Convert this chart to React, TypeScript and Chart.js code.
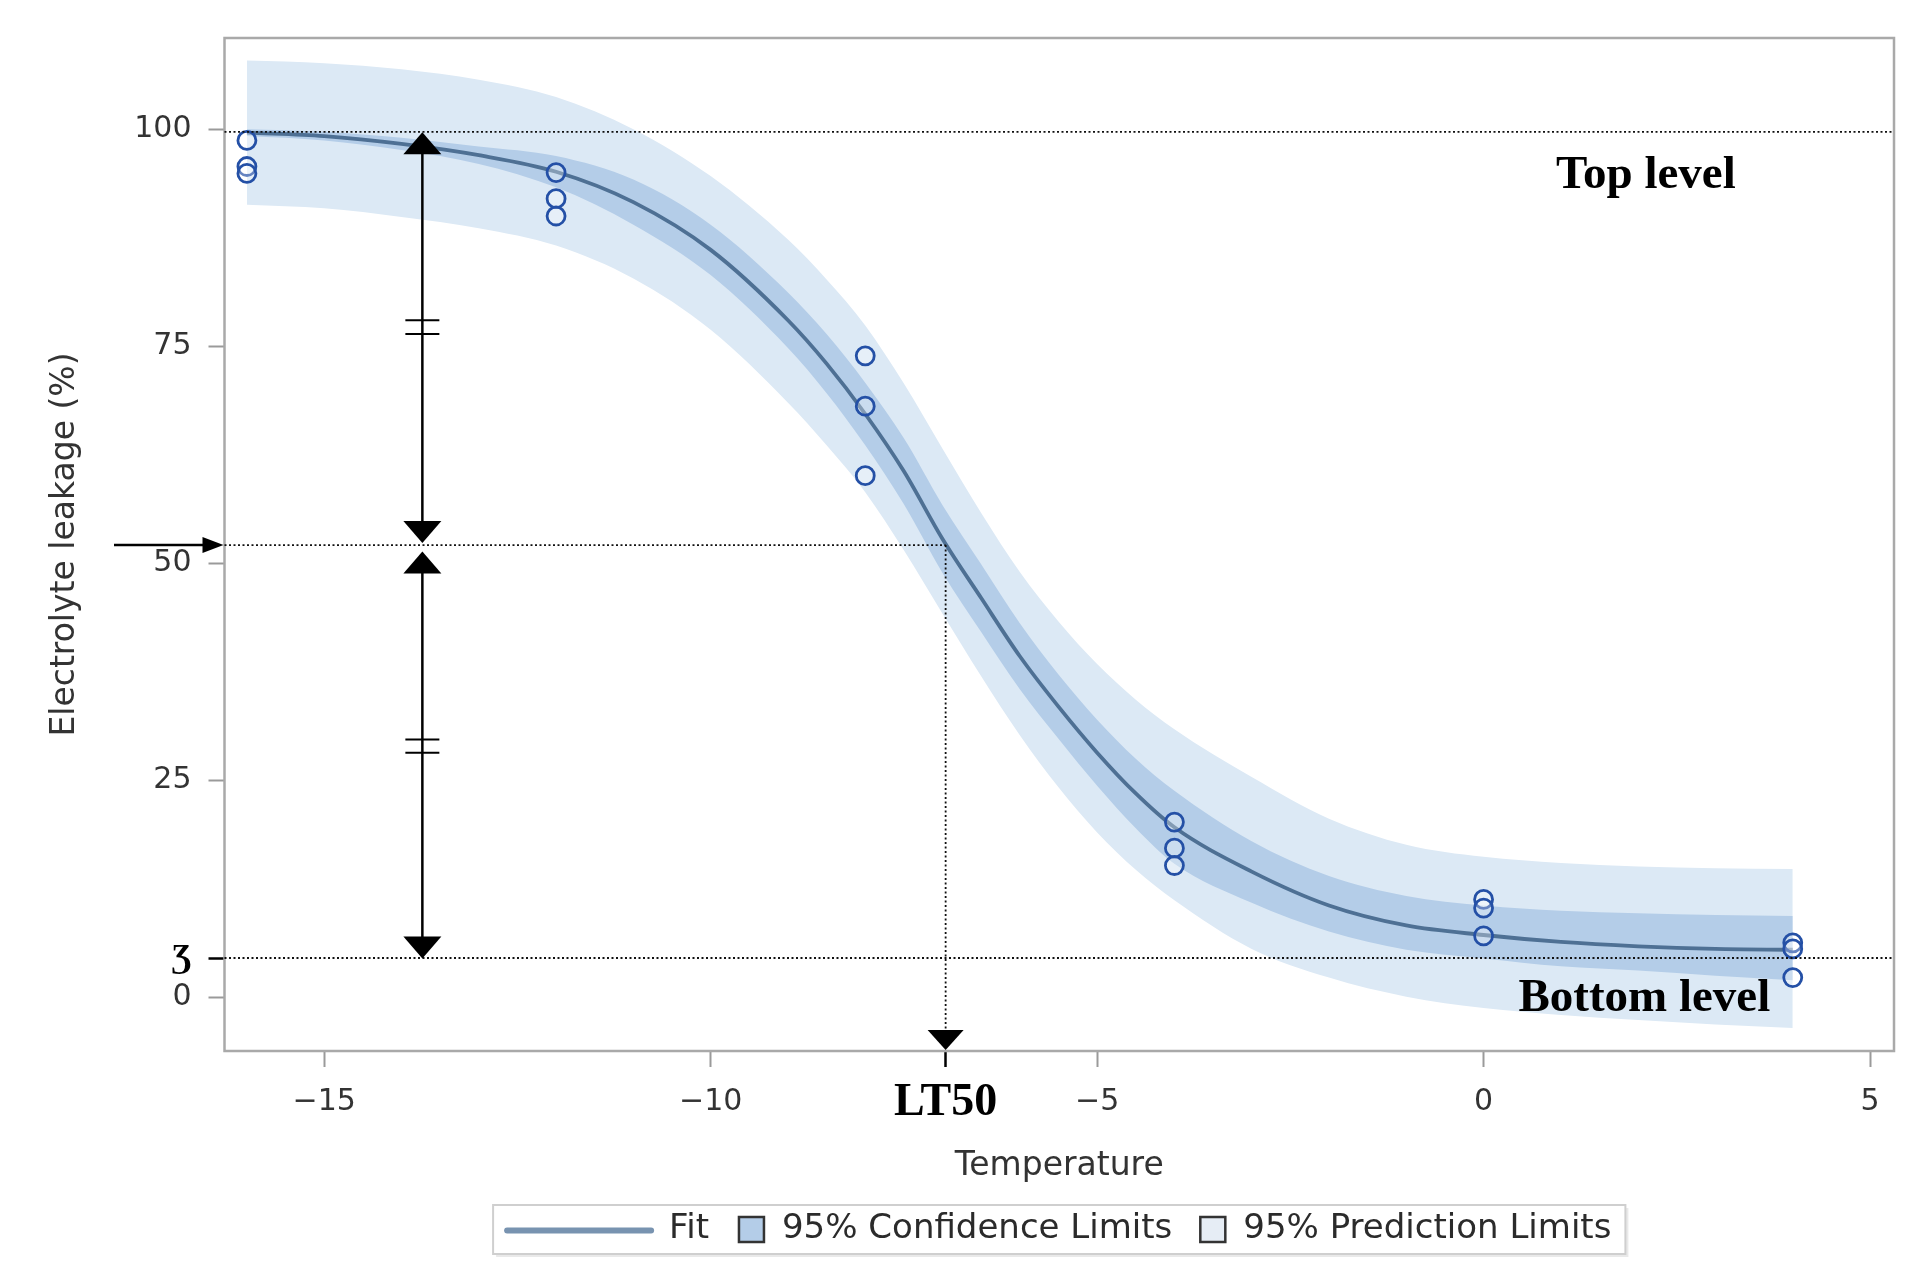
import React, { useEffect, useRef } from "react";
import { Chart, registerables } from "chart.js";

Chart.register(...registerables);

// ---------------- data ----------------
const temperatures = [-16, -15, -14, -13, -12, -11, -10, -9, -8.5, -8, -7.5, -7, -6.5, -6, -5.5, -5, -4.5, -4, -3, -2, -1, 0, 1, 2, 3, 4];
const fitValues = [99.6, 99.2, 98.3, 97.0, 95.1, 91.6, 86.1, 78.0, 73.0, 67.2, 60.6, 52.8, 46.0, 39.3, 33.5, 28.2, 23.5, 19.6, 14.5, 10.6, 8.3, 7.2, 6.4, 5.9, 5.6, 5.5];
const ciUpper = [100.0, 99.7, 99.0, 98.0, 96.9, 94.2, 89.0, 81.2, 76.4, 70.8, 64.4, 56.7, 49.9, 43.1, 37.2, 32.0, 27.5, 23.8, 18.0, 14.0, 11.7, 10.6, 10.0, 9.7, 9.5, 9.4];
const ciLower = [99.2, 98.7, 97.6, 96.0, 93.3, 89.0, 83.2, 74.8, 69.6, 63.6, 56.8, 48.9, 42.1, 35.5, 29.8, 24.4, 19.5, 15.4, 10.9, 7.6, 5.5, 4.5, 3.6, 3.1, 2.5, 2.0];
const piUpper = [107.9, 107.6, 106.9, 105.7, 103.7, 100.0, 94.6, 87.3, 82.7, 77.4, 70.7, 63.2, 55.8, 49.0, 43.3, 38.4, 34.3, 30.9, 25.4, 20.6, 17.6, 16.2, 15.5, 15.1, 14.9, 14.8];
const piLower = [91.3, 90.9, 89.9, 88.6, 86.6, 82.8, 76.9, 68.5, 63.6, 58.2, 51.5, 44.2, 37.0, 30.2, 24.2, 19.0, 14.7, 11.2, 5.6, 2.3, 0.1, -1.2, -2.0, -2.6, -3.1, -3.5];

const obsTemperatures = [-16, -16, -16, -12, -12, -12, -8, -8, -8, -4, -4, -4, 0, 0, 0, 4, 4, 4];
const obsLeakage = [98.7, 95.7, 94.9, 95.0, 92.0, 90.0, 73.9, 68.1, 60.1, 20.2, 17.2, 15.2, 11.3, 10.3, 7.1, 6.3, 5.6, 2.3];

const xTickValues = [-15, -10, -5, 0, 5];
const yTickValues = [0, 25, 50, 75, 100];

const LT50 = -6.96;
const TOP_LEVEL = 99.7;
const MID_LEVEL = 52.1;
const BOTTOM_LEVEL = 4.55;
const ARROW_X = -13.73;
const upperArrow = [99.65, 52.35];
const lowerArrow = [51.35, 4.5];
const breakMarks = [78.0, 76.4, 29.7, 28.2];

const legendLabels = ["Fit", "95% Confidence Limits", "95% Prediction Limits"];
const xTitle = "Temperature";
const yTitle = "Electrolyte leakage (%)";
const lt50Label = "LT50";
const bottomTickLabel = "Ʒ";
const topLevelLabel = "Top level";
const bottomLevelLabel = "Bottom level";

// ---------------- styles ----------------
const PI_COLOR = "#dce9f5";
const CI_COLOR = "#b4cde8";
const FIT_COLOR = "#4e7094";
const POINT_COLOR = "#2450a6";
const SANS = '"DejaVu Sans", "Liberation Sans", sans-serif';
const SERIF = '"Liberation Serif", "DejaVu Serif", "Times New Roman", serif';

const pts = (ys: number[]) => temperatures.map((t, i) => ({ x: t, y: ys[i] }));

function arrowHead(ctx: CanvasRenderingContext2D, tipX: number, tipY: number, dx: number, dy: number, len: number, half: number) {
  const bx = tipX - dx * len;
  const by = tipY - dy * len;
  const px = -dy;
  const py = dx;
  ctx.beginPath();
  ctx.moveTo(tipX, tipY);
  ctx.lineTo(bx + px * half, by + py * half);
  ctx.lineTo(bx - px * half, by - py * half);
  ctx.closePath();
  ctx.fill();
}

function seg(ctx: CanvasRenderingContext2D, x1: number, y1: number, x2: number, y2: number) {
  ctx.beginPath();
  ctx.moveTo(x1, y1);
  ctx.lineTo(x2, y2);
  ctx.stroke();
}

const annotationPlugin = {
  id: "lt50Annotations",
  afterDatasetsDraw(chart: any) {
    const { ctx, chartArea: a, scales } = chart;
    const x = scales.x;
    const y = scales.y;
    ctx.save();

    // frame
    ctx.strokeStyle = "#a9a9a9";
    ctx.lineWidth = 2.5;
    ctx.strokeRect(a.left, a.top, a.right - a.left, a.bottom - a.top);

    // dotted reference lines
    ctx.strokeStyle = "#111";
    ctx.lineWidth = 1.8;
    ctx.setLineDash([2, 2.5]);
    const yTop = y.getPixelForValue(TOP_LEVEL);
    const yMid = y.getPixelForValue(MID_LEVEL);
    const yBot = y.getPixelForValue(BOTTOM_LEVEL);
    const xL = x.getPixelForValue(LT50);
    seg(ctx, a.left, yTop, a.right, yTop);
    seg(ctx, a.left, yMid, xL, yMid);
    seg(ctx, a.left, yBot, a.right, yBot);
    seg(ctx, xL, yMid, xL, a.bottom - 18);
    ctx.setLineDash([]);

    ctx.fillStyle = "#000";
    ctx.strokeStyle = "#000";
    // LT50 arrow head at bottom
    arrowHead(ctx, xL, a.bottom - 1, 0, 1, 20, 18);

    // double arrows
    const ax = x.getPixelForValue(ARROW_X);
    const HL = 22;
    const HW = 19;
    ctx.lineWidth = 2.5;
    [upperArrow, lowerArrow].forEach(([from, to]) => {
      const y1 = y.getPixelForValue(from);
      const y2 = y.getPixelForValue(to);
      seg(ctx, ax, y1 + HL - 2, ax, y2 - HL + 2);
      arrowHead(ctx, ax, y1, 0, -1, HL, HW);
      arrowHead(ctx, ax, y2, 0, 1, HL, HW);
    });
    ctx.lineWidth = 2;
    breakMarks.forEach((v) => {
      const yy = y.getPixelForValue(v);
      seg(ctx, ax - 17, yy, ax + 17, yy);
    });

    // left arrow pointing at the 50% level
    ctx.lineWidth = 2.5;
    seg(ctx, 114, yMid, a.left - 20, yMid);
    arrowHead(ctx, a.left - 1, yMid, 1, 0, 21, 8);

    // level labels
    ctx.font = "bold 47px " + SERIF;
    ctx.textAlign = "center";
    ctx.textBaseline = "alphabetic";
    ctx.fillText(topLevelLabel, x.getPixelForValue(2.1), y.getPixelForValue(93.2));
    ctx.fillText(bottomLevelLabel, x.getPixelForValue(2.08), y.getPixelForValue(-1.6));

    ctx.restore();
  },
  afterDraw(chart: any) {
    const { ctx, chartArea: a } = chart;
    ctx.save();
    ctx.font = "34px " + SANS;
    const widths = legendLabels.map((l) => ctx.measureText(l).width);
    const pad = 14;
    const lineLen = 144;
    const sq = 25;
    const total = pad + lineLen + 18 + widths[0] + 30 + sq + 18 + widths[1] + 28 + sq + 18 + widths[2] + pad;
    const left = (a.left + a.right) / 2 - total / 2;
    const top = chart.height - 75;
    const h = 49;
    const cy = top + h / 2;
    // shadow + box
    ctx.fillStyle = "#e9e9e9";
    ctx.fillRect(left + 3, top + 3, total, h);
    ctx.fillStyle = "#fff";
    ctx.fillRect(left, top, total, h);
    ctx.strokeStyle = "#cfcfcf";
    ctx.lineWidth = 2;
    ctx.strokeRect(left, top, total, h);

    let cx = left + pad;
    ctx.strokeStyle = "#7893b0";
    ctx.lineWidth = 6;
    ctx.lineCap = "round";
    seg(ctx, cx, cy + 1, cx + lineLen, cy + 1);
    ctx.lineCap = "butt";
    cx += lineLen + 18;
    ctx.fillStyle = "#2b2b2b";
    ctx.textAlign = "left";
    ctx.textBaseline = "middle";
    ctx.fillText(legendLabels[0], cx, cy);
    cx += widths[0] + 30;

    const drawSq = (fill: string) => {
      ctx.fillStyle = fill;
      ctx.fillRect(cx, cy - sq / 2, sq, sq);
      ctx.strokeStyle = "#333";
      ctx.lineWidth = 2.5;
      ctx.strokeRect(cx, cy - sq / 2, sq, sq);
    };
    drawSq(CI_COLOR);
    cx += sq + 18;
    ctx.fillStyle = "#2b2b2b";
    ctx.fillText(legendLabels[1], cx, cy);
    cx += widths[1] + 28;
    drawSq("#e6edf5");
    cx += sq + 18;
    ctx.fillStyle = "#2b2b2b";
    ctx.fillText(legendLabels[2], cx, cy);
    ctx.restore();
  },
};

const isSame = (a: number, b: number) => Math.abs(a - b) < 1e-6;

export default function App() {
  const canvasRef = useRef<HTMLCanvasElement | null>(null);

  useEffect(() => {
    if (!canvasRef.current) return;
    Chart.defaults.font.family = SANS;
    const band = {
      borderColor: "rgba(0,0,0,0)",
      borderWidth: 0,
      pointRadius: 0,
      cubicInterpolationMode: "monotone",
    };
    const chart = new Chart(canvasRef.current, {
      type: "line",
      data: {
        datasets: [
          { ...band, label: "PI lower", data: pts(piLower), fill: false, order: 6 },
          { ...band, label: legendLabels[2], data: pts(piUpper), backgroundColor: PI_COLOR, fill: "-1", order: 5 },
          { ...band, label: "CI lower", data: pts(ciLower), fill: false, order: 4 },
          { ...band, label: legendLabels[1], data: pts(ciUpper), backgroundColor: CI_COLOR, fill: "-1", order: 3 },
          {
            label: legendLabels[0],
            data: pts(fitValues),
            borderColor: FIT_COLOR,
            borderWidth: 3.8,
            pointRadius: 0,
            fill: false,
            cubicInterpolationMode: "monotone",
            order: 2,
          },
          {
            label: "Observed",
            data: obsTemperatures.map((t, i) => ({ x: t, y: obsLeakage[i] })),
            showLine: false,
            pointStyle: "circle",
            pointRadius: 9,
            pointBorderWidth: 2.8,
            pointBorderColor: POINT_COLOR,
            pointBackgroundColor: "rgba(255,255,255,0.3)",
            borderColor: POINT_COLOR,
            order: 1,
          } as any,
        ],
      },
      options: {
        animation: false,
        responsive: false,
        devicePixelRatio: 1,
        events: [],
        layout: { padding: { left: 0, top: 38, right: 33, bottom: 94 } },
        plugins: {
          legend: { display: false },
          tooltip: { enabled: false },
        },
        scales: {
          x: {
            type: "linear",
            min: -16.29,
            max: 5.31,
            afterBuildTicks: (scale: any) => {
              scale.ticks = [...xTickValues, LT50].sort((p, q) => p - q).map((v) => ({ value: v }));
            },
            afterFit: (scale: any) => {
              scale.height = 135;
            },
            grid: {
              drawOnChartArea: false,
              drawTicks: true,
              tickLength: 16,
              tickWidth: (c: any) => (c.tick && isSame(c.tick.value, LT50) ? 2.5 : 2),
              tickColor: (c: any) => (c.tick && isSame(c.tick.value, LT50) ? "#000" : "#9a9a9a"),
            },
            border: { display: false },
            ticks: {
              autoSkip: false,
              maxRotation: 0,
              padding: 17,
              color: (c: any) => (c.tick && isSame(c.tick.value, LT50) ? "#000" : "#333"),
              font: (c: any) =>
                c.tick && isSame(c.tick.value, LT50)
                  ? { family: SERIF, size: 46, weight: "bold", lineHeight: 0.85 }
                  : { family: SANS, size: 30 },
              callback: (v: any) => {
                const n = Number(v);
                if (isSame(n, LT50)) return lt50Label;
                return n < 0 ? "\u2212" + Math.abs(n) : String(n);
              },
            },
            title: {
              display: true,
              text: xTitle,
              color: "#333",
              font: { family: SANS, size: 33 },
              padding: { top: 0, bottom: 0 },
            },
          },
          y: {
            type: "linear",
            min: -6.16,
            max: 110.5,
            afterBuildTicks: (scale: any) => {
              scale.ticks = [...yTickValues, BOTTOM_LEVEL].sort((p, q) => p - q).map((v) => ({ value: v }));
            },
            afterFit: (scale: any) => {
              scale.width = 224.5;
            },
            grid: {
              drawOnChartArea: false,
              drawTicks: true,
              tickLength: 16,
              tickWidth: (c: any) => (c.tick && isSame(c.tick.value, BOTTOM_LEVEL) ? 2.5 : 2),
              tickColor: (c: any) => (c.tick && isSame(c.tick.value, BOTTOM_LEVEL) ? "#000" : "#9a9a9a"),
            },
            border: { display: false },
            ticks: {
              autoSkip: false,
              padding: 17,
              color: (c: any) => (c.tick && isSame(c.tick.value, BOTTOM_LEVEL) ? "#000" : "#333"),
              font: (c: any) =>
                c.tick && isSame(c.tick.value, BOTTOM_LEVEL)
                  ? { family: SERIF, size: 34, weight: "bold" }
                  : { family: SANS, size: 30 },
              callback: (v: any) => {
                const n = Number(v);
                if (isSame(n, BOTTOM_LEVEL)) return bottomTickLabel;
                return String(n);
              },
            },
            title: {
              display: true,
              text: yTitle,
              color: "#333",
              font: { family: SANS, size: 33 },
              padding: { top: 46, bottom: 0 },
            },
          },
        },
      },
      plugins: [annotationPlugin],
    } as any);
    return () => chart.destroy();
  }, []);

  return (
    <div style={{ position: "absolute", left: 0, top: 0, width: 1927, height: 1280, background: "#fff" }}>
      <canvas ref={canvasRef} width={1927} height={1280} style={{ display: "block", width: 1927, height: 1280 }} />
    </div>
  );
}
